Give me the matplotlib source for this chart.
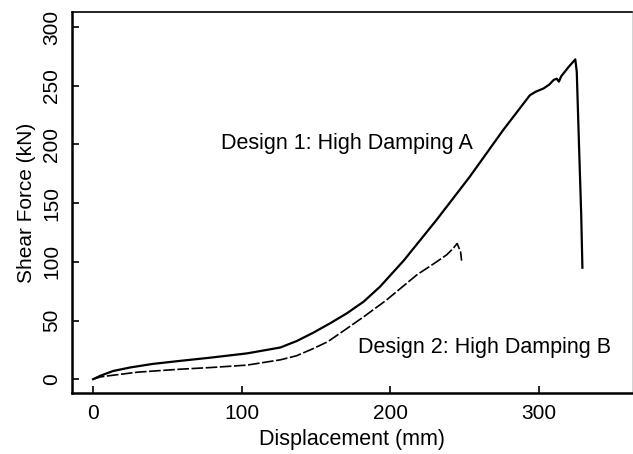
import matplotlib.pyplot as plt

plt.rcParams['font.family'] = ['Liberation Sans', 'DejaVu Sans']

# Design 1: High Damping A
disp_a = [0, 5, 13.5, 25, 40, 58.5, 80, 103.6, 126, 137, 148, 160, 170.6, 182,
          193, 209, 231, 253.5, 276, 294, 298, 303, 307, 310, 312, 313.5, 315,
          320, 324.5, 325.5, 327, 328.5, 329.3]
force_a = [0, 3, 7, 10, 13, 15.6, 18.5, 22, 27, 32.5, 39.5, 48, 56, 66,
           78.7, 101, 135.5, 172.5, 212.3, 242, 245, 247.6, 251, 255, 256, 253.5, 258,
           266, 272.5, 262, 200, 140, 95]

# Design 2: High Damping B
disp_b = [0, 5, 13.5, 30, 58.5, 80, 103.6, 126, 137, 148, 158, 170.6, 183, 197,
          218, 230, 238, 242, 245, 247.3, 248]
force_b = [0, 2, 3.4, 6, 8.5, 10, 12, 16.5, 20, 26, 32, 43, 54, 67,
           89, 99, 106, 111, 115.6, 108.5, 101]

x_ticks = [0, 100, 200, 300]
y_ticks = [0, 50, 100, 150, 200, 250, 300]

fig = plt.figure(figsize=(6.33, 4.54), dpi=100)
ax = fig.add_axes([0.114, 0.134, 0.884, 0.84])

ax.plot(disp_a, force_a, color='black', lw=1.6)
ax.plot(disp_b, force_b, color='black', lw=1.2, dashes=(7, 1.5))

ax.text(86, 201, 'Design 1: High Damping A', fontsize=15.5, va='center', ha='left')
ax.text(178, 27, 'Design 2: High Damping B', fontsize=15.5, va='center', ha='left')

ax.set_xlim(-14.1, 362.5)
ax.set_ylim(-11.9, 313)
ax.set_xticks(x_ticks)
ax.set_yticks(y_ticks)
ax.tick_params(direction='in', length=5, width=1.2, labelsize=15, pad=8,
               top=False, right=False)
ax.tick_params(axis='y', labelrotation=90)
for lbl in ax.get_yticklabels():
    lbl.set_va('center')

for side in ['left', 'bottom']:
    ax.spines[side].set_linewidth(1.8)
ax.spines['top'].set_linewidth(1.2)
ax.spines['right'].set_linewidth(0.6)
ax.spines['right'].set_color('#cccccc')

ax.set_xlabel('Displacement (mm)', fontsize=15.5, labelpad=4)
ax.set_ylabel('Shear Force (kN)', fontsize=15, labelpad=4)

fig.savefig('out.png', dpi=100)
